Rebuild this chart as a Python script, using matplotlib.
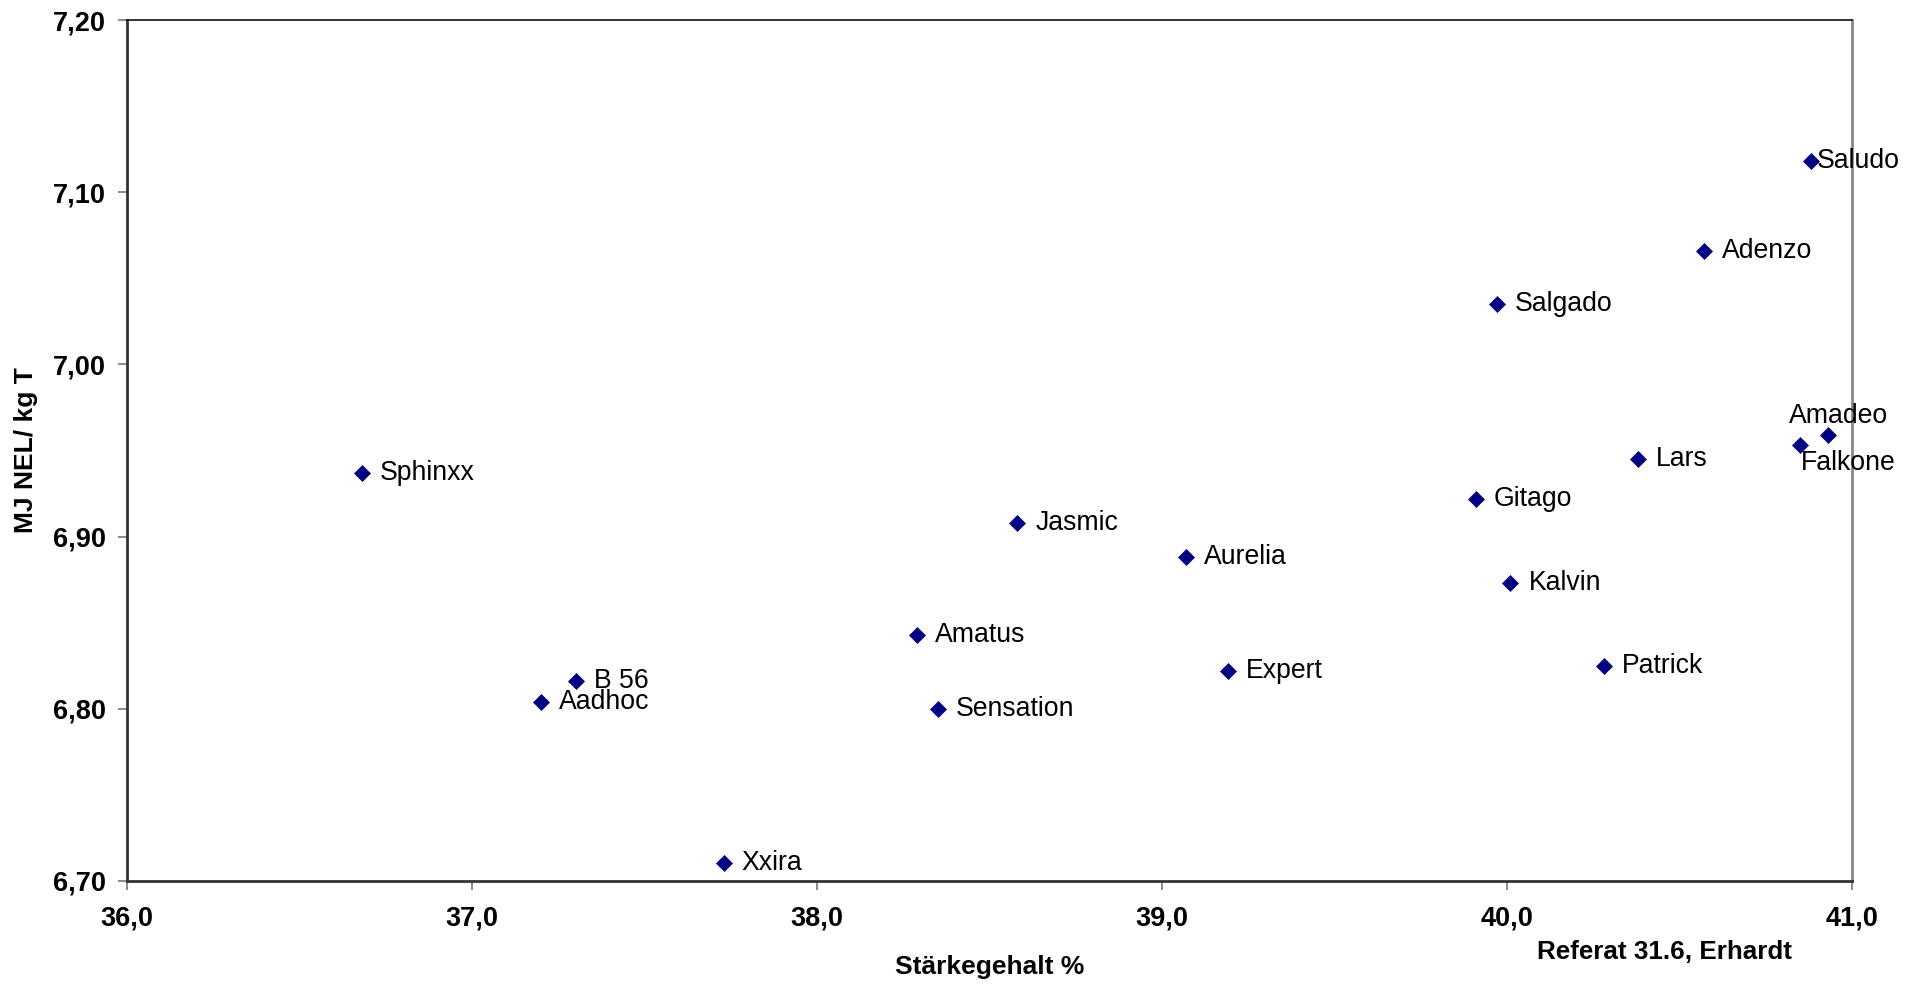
import matplotlib
matplotlib.use("Agg")
import matplotlib.pyplot as plt
from matplotlib.ticker import FuncFormatter, MultipleLocator

plt.rcParams['font.family'] = ['Liberation Sans', 'DejaVu Sans']

# Data
sorten = ["Saludo", "Adenzo", "Salgado", "Amadeo", "Falkone", "Lars", "Sphinxx",
          "Gitago", "Jasmic", "Aurelia", "Kalvin", "Amatus", "Expert", "Patrick",
          "B 56", "Aadhoc", "Sensation", "Xxira"]
staerke = [40.88, 40.57, 39.97, 40.93, 40.85, 40.38, 36.68,
           39.91, 38.58, 39.07, 40.01, 38.29, 39.19, 40.28,
           37.30, 37.20, 38.35, 37.73]
nel = [7.118, 7.066, 7.035, 6.959, 6.953, 6.945, 6.937,
       6.922, 6.908, 6.888, 6.873, 6.843, 6.822, 6.825,
       6.816, 6.804, 6.800, 6.710]

x_label = "Stärkegehalt %"
y_label = "MJ NEL/ kg T"
note = "Referat 31.6, Erhardt"

fig = plt.figure(figsize=(19.1, 9.85), dpi=100)
ax = fig.add_axes([127/1910, 1-880.7/985, (1852-127)/1910, (880.7-20.3)/985])

ax.plot(staerke, nel, linestyle='none', marker='D', markersize=8.4,
        markerfacecolor='#000080', markeredgecolor='#000080', markeredgewidth=0.5)

# label offsets (points)
default_off = (13, 0, 'left', 'center')
special = {
    "Saludo": (4.3, 0, 'left', 'center'),
    "Amadeo": (-27.8, 13.9, 'left', 'center'),
    "Falkone": (0.7, -13, 'left', 'center'),
}
for name, xv, yv in zip(sorten, staerke, nel):
    dx, dy, ha, va = special.get(name, default_off)
    ax.annotate(name, (xv, yv), xytext=(dx, dy), textcoords='offset points',
                ha=ha, va=va, fontsize=19.2, color='black')

ax.set_xlim(36, 41)
ax.set_ylim(6.70, 7.20)
ax.xaxis.set_major_locator(MultipleLocator(1.0))
ax.yaxis.set_major_locator(MultipleLocator(0.1))
ax.xaxis.set_major_formatter(FuncFormatter(lambda v, p: f"{v:.1f}".replace('.', ',')))
ax.yaxis.set_major_formatter(FuncFormatter(lambda v, p: f"{v:.2f}".replace('.', ',')))

ax.tick_params(axis='both', direction='out', length=6.5, width=1.2, color='#777777',
               labelsize=19.5)
ax.tick_params(axis='x', pad=11)
ax.tick_params(axis='y', pad=8.5)
for lab in ax.get_xticklabels() + ax.get_yticklabels():
    lab.set_fontweight('bold')

ax.spines['left'].set_color('#333333')
ax.spines['left'].set_linewidth(2)
ax.spines['bottom'].set_color('#333333')
ax.spines['bottom'].set_linewidth(2)
ax.spines['top'].set_color('#111111')
ax.spines['top'].set_linewidth(1.2)
ax.spines['right'].set_color('#888888')
ax.spines['right'].set_linewidth(2)

ax.set_xlabel(x_label, fontsize=19, fontweight='bold')
ax.xaxis.set_label_coords(0.5, (880.7-967)/860.4)
ax.xaxis.label.set_va('center')
ax.set_ylabel(y_label, fontsize=19, fontweight='bold')
ax.yaxis.set_label_coords(-(127-26)/1725, 0.5)
ax.yaxis.label.set_va('center')

fig.text(1536.7/1910, 1-951.7/985, note, fontsize=18.7, fontweight='bold',
         ha='left', va='center')

fig.savefig("out.png", dpi=100, facecolor='white')
